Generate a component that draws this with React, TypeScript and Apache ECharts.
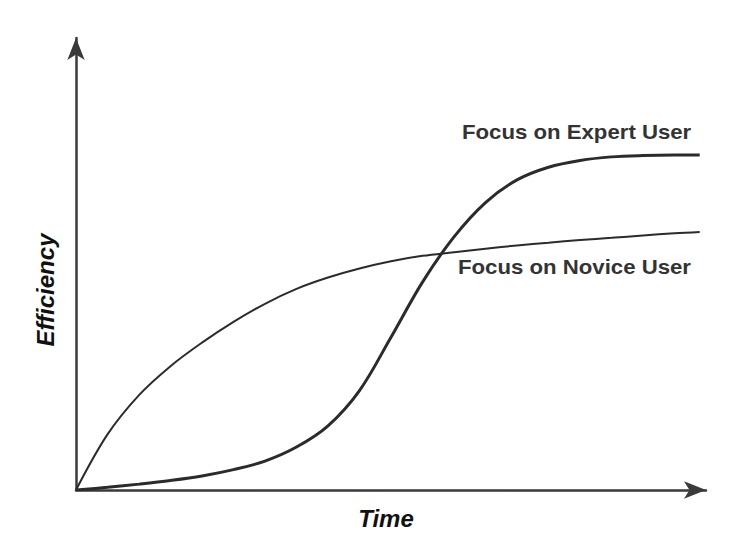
import React, { useEffect, useRef } from "react";
import * as echarts from "echarts";

// Data (arbitrary units: time 0..100, efficiency 0..100)
const expertTime = [0, 5, 10, 15, 20, 25, 30, 35, 40, 45, 50, 55, 60, 65, 70, 75, 80, 85, 90, 95, 99];
const expertEff = [0, 0.6, 1.3, 2.1, 3.1, 4.5, 6.4, 9.5, 14.2, 22.0, 33.8, 46.0, 56.0, 63.6, 68.6, 71.4, 72.9, 73.7, 74.0, 74.1, 74.1];

const noviceTime = [0, 5, 10, 15, 20, 25, 30, 35, 40, 45, 50, 55, 60, 65, 70, 75, 80, 85, 90, 95, 99];
const noviceEff = [0, 12.3, 21.0, 27.4, 32.6, 37.2, 41.2, 44.5, 47.0, 49.0, 50.6, 51.8, 52.6, 53.4, 54.1, 54.7, 55.3, 55.8, 56.3, 56.8, 57.1];

const seriesNames = ["Focus on Expert User", "Focus on Novice User"];
const xAxisTitle = "Time";
const yAxisTitle = "Efficiency";

const zip = (a: number[], b: number[]) => a.map((v, i) => [v, b[i]]);

export default function App() {
  const ref = useRef<HTMLDivElement>(null);
  useEffect(() => {
    if (!ref.current) return;
    const chart = echarts.init(ref.current, null, { renderer: "svg" });
    const font = "'Liberation Sans', Arial, Helvetica, sans-serif";
    const axisCommon = {
      type: "value",
      min: 0,
      max: 100,
      axisLine: {
        show: true,
        symbol: ["none", "arrow"],
        symbolSize: [13, 22],
        lineStyle: { color: "#3a3a3a", width: 2.5 },
      },
      axisTick: { show: false },
      axisLabel: { show: false },
      splitLine: { show: false },
    };
    chart.setOption({
      animation: false,
      backgroundColor: "#ffffff",
      grid: { left: 76, top: 38, right: 44, bottom: 53 },
      xAxis: axisCommon,
      yAxis: axisCommon,
      series: [
        {
          name: seriesNames[0],
          type: "line",
          data: zip(expertTime, expertEff),
          smooth: 0.35,
          showSymbol: false,
          lineStyle: { color: "#2b2b2b", width: 3 },
          z: 3,
        },
        {
          name: seriesNames[1],
          type: "line",
          data: zip(noviceTime, noviceEff),
          smooth: 0.35,
          showSymbol: false,
          lineStyle: { color: "#2b2b2b", width: 2 },
          z: 2,
        },
      ],
      graphic: [
        {
          type: "text",
          x: 462,
          y: 132,
          scaleX: 1.11,
          style: {
            text: seriesNames[0],
            font: `bold 20px ${font}`,
            fill: "#333",
            align: "left",
            verticalAlign: "middle",
          },
        },
        {
          type: "text",
          x: 458,
          y: 267,
          scaleX: 1.11,
          style: {
            text: seriesNames[1],
            font: `bold 20px ${font}`,
            fill: "#333",
            align: "left",
            verticalAlign: "middle",
          },
        },
        {
          type: "text",
          x: 386,
          y: 518,
          style: {
            text: xAxisTitle,
            font: `italic bold 24px ${font}`,
            fill: "#111",
            align: "center",
            verticalAlign: "middle",
          },
        },
        {
          type: "text",
          x: 45,
          y: 290,
          rotation: Math.PI / 2,
          style: {
            text: yAxisTitle,
            font: `italic bold 24px ${font}`,
            fill: "#111",
            align: "center",
            verticalAlign: "middle",
          },
        },
      ],
    });
    return () => chart.dispose();
  }, []);
  return (
    <div
      ref={ref}
      style={{ position: "fixed", left: 0, top: 0, width: 750, height: 543 }}
    />
  );
}
